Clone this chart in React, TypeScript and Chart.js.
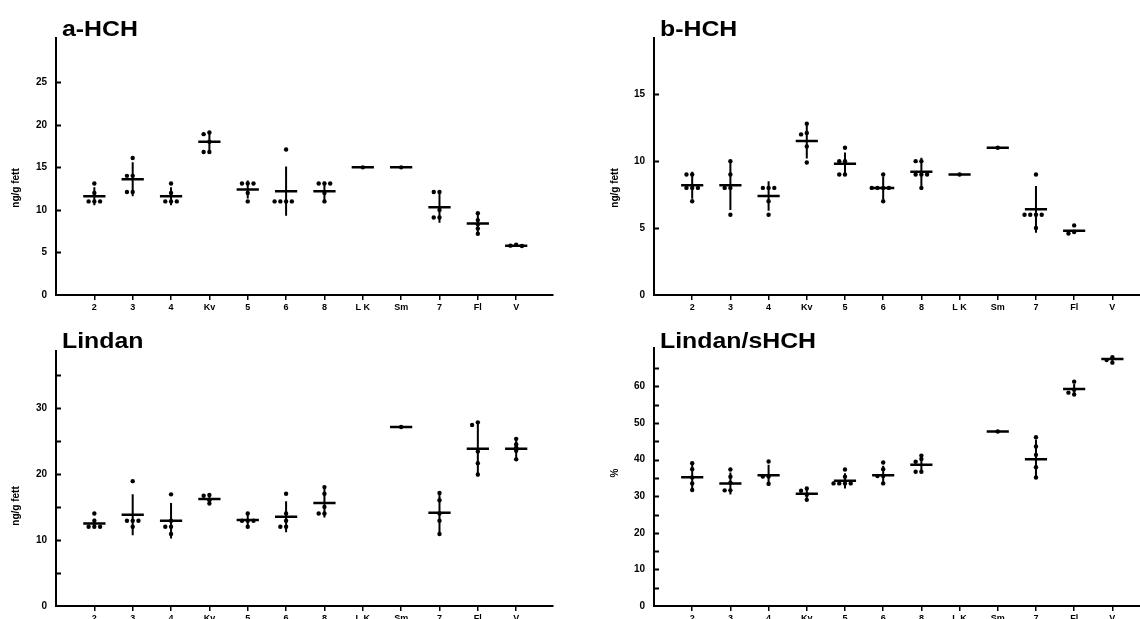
import React, { useEffect, useRef } from "react";
import { Chart, registerables } from "chart.js";
Chart.register(...registerables);

const categories = ["2", "3", "4", "Kv", "5", "6", "8", "L K", "Sm", "7", "Fl", "V"];

// a-HCH (ng/g fett)
const aHchPoints: number[][] = [
  [13.1, 12.0, 11.0, 11.0, 11.0],
  [16.1, 14.0, 14.0, 12.1, 12.1],
  [13.1, 12.0, 11.0, 11.0, 11.0],
  [19.1, 18.9, 18.0, 16.8, 16.8],
  [13.1, 13.1, 13.1, 12.0, 11.0],
  [17.1, 11.0, 11.0, 11.0, 11.0],
  [13.1, 13.1, 13.1, 12.0, 11.0],
  [15.0],
  [15.0],
  [12.1, 12.1, 10.0, 9.1, 9.1],
  [9.6, 8.8, 8.3, 7.8, 7.2],
  [5.9, 5.8, 5.75],
];
const aHchMean: (number | null)[] = [11.6, 13.6, 11.6, 18.0, 12.4, 12.2, 12.2, 15.0, 15.0, 10.3, 8.4, 5.8];
const aHchSd: number[] = [1.05, 2.0, 1.05, 1.25, 1.05, 2.9, 1.1, 0, 0, 1.8, 1.0, 0.12];
const aHchTicks = [0, 5, 10, 15, 20, 25];
const aHchTickLabels = ["0", "5", "10", "15", "20", "25"];

// b-HCH (ng/g fett)
const bHchPoints: number[][] = [
  [9.0, 9.0, 8.0, 8.0, 8.0, 7.0],
  [10.0, 9.0, 8.0, 8.0, 6.0],
  [8.0, 8.0, 8.0, 7.0, 6.0],
  [12.8, 12.1, 12.0, 11.1, 9.9],
  [11.0, 10.0, 10.0, 9.0, 9.0],
  [9.0, 8.0, 8.0, 8.0, 8.0, 7.0],
  [10.0, 10.0, 9.0, 9.0, 9.0, 8.0],
  [9.0],
  [11.0],
  [9.0, 6.0, 6.0, 6.0, 6.0, 5.0],
  [5.2, 4.7, 4.6],
  [],
];
const bHchMean: (number | null)[] = [8.2, 8.2, 7.4, 11.5, 9.8, 8.0, 9.2, 9.0, 11.0, 6.4, 4.8, null];
const bHchSd: number[] = [1.0, 1.85, 1.1, 1.3, 0.85, 0.85, 1.05, 0, 0, 1.75, 0.08, 0];
const bHchTicks = [0, 5, 10, 15];
const bHchTickLabels = ["0", "5", "10", "15"];

// Lindan (ng/g fett)
const lindanPoints: number[][] = [
  [14.0, 12.9, 12.0, 12.0, 12.0],
  [18.9, 12.9, 12.9, 12.9, 12.0],
  [16.9, 12.9, 12.0, 12.0, 10.9],
  [16.8, 16.7, 16.0, 15.5],
  [14.0, 12.9, 12.9, 12.9, 12.0],
  [17.0, 14.0, 12.9, 12.0, 12.0],
  [18.0, 17.0, 15.0, 14.0, 14.0],
  [],
  [27.1],
  [17.1, 16.0, 14.0, 12.9, 10.9],
  [27.8, 27.4, 23.4, 21.6, 19.9],
  [25.3, 24.5, 24.0, 23.5, 22.2],
];
const lindanMean: (number | null)[] = [12.5, 13.8, 12.9, 16.2, 13.0, 13.5, 15.6, null, 27.1, 14.1, 23.8, 23.8];
const lindanSd: number[] = [0.7, 3.1, 2.7, 0.6, 0.85, 2.35, 2.2, 0, 0, 2.9, 4.2, 1.6];
const lindanTicks = [0, 5, 10, 15, 20, 25, 30, 35];
const lindanTickLabels = ["0", "", "10", "", "20", "", "30", ""];

// Lindan/sHCH (%)
const ratioPoints: number[][] = [
  [39.0, 37.4, 35.1, 33.5, 31.7],
  [37.3, 35.3, 33.7, 31.6, 31.6],
  [39.5, 35.4, 35.4, 33.4],
  [32.1, 31.5, 30.4, 29.0],
  [37.3, 35.3, 33.5, 33.5, 33.5, 33.5],
  [39.2, 37.4, 35.5, 35.5, 33.5],
  [41.1, 40.2, 39.4, 36.7, 36.7],
  [],
  [47.7],
  [46.1, 43.6, 41.3, 37.9, 35.1],
  [61.3, 59.1, 58.3, 57.8],
  [68.0, 67.2, 66.5],
];
const ratioMean: (number | null)[] = [35.2, 33.5, 35.7, 30.7, 34.2, 35.7, 38.6, null, 47.7, 40.1, 59.3, 67.5];
const ratioSd: number[] = [3.4, 3.0, 2.9, 1.5, 2.1, 2.6, 1.9, 0, 0, 5.4, 1.4, 0.7];
const ratioTicks = [0, 5, 10, 15, 20, 25, 30, 35, 40, 45, 50, 55, 60, 65];
const ratioTickLabels = ["0", "", "10", "", "20", "", "30", "", "40", "", "50", "", "60", ""];

const FONT = "Arial, 'Liberation Sans', sans-serif";

type PanelDef = {
  key: string;
  title: string;
  yTitle: string;
  points: number[][];
  mean: (number | null)[];
  sd: number[];
  yMax: number;
  yTicks: number[];
  yLabels: string[];
  left: number;
  top: number;
  width: number;
  height: number;
  padTop: number;
  padRight: number;
  xMax: number;
  titleY: number;
  yTitleX: number;
  yTitleY: number;
};

const panels: PanelDef[] = [
  { key: "a", title: "a-HCH", yTitle: "ng/g fett", points: aHchPoints, mean: aHchMean, sd: aHchSd, yMax: 30.2, yTicks: aHchTicks, yLabels: aHchTickLabels, left: 0, top: 0, width: 560, height: 315, padTop: 38, padRight: 7, xMax: 12.96, titleY: 36, yTitleX: 16, yTitleY: 188 },
  { key: "b", title: "b-HCH", yTitle: "ng/g fett", points: bHchPoints, mean: bHchMean, sd: bHchSd, yMax: 19.2, yTicks: bHchTicks, yLabels: bHchTickLabels, left: 598, top: 0, width: 560, height: 315, padTop: 38, padRight: 0, xMax: 13.09, titleY: 36, yTitleX: 17, yTitleY: 188 },
  { key: "l", title: "Lindan", yTitle: "ng/g fett", points: lindanPoints, mean: lindanMean, sd: lindanSd, yMax: 38.6, yTicks: lindanTicks, yLabels: lindanTickLabels, left: 0, top: 310, width: 560, height: 316, padTop: 41, padRight: 7, xMax: 12.96, titleY: 38, yTitleX: 16, yTitleY: 196 },
  { key: "r", title: "Lindan/sHCH", yTitle: "%", points: ratioPoints, mean: ratioMean, sd: ratioSd, yMax: 70.5, yTicks: ratioTicks, yLabels: ratioTickLabels, left: 598, top: 310, width: 560, height: 316, padTop: 38, padRight: 0, xMax: 13.09, titleY: 38, yTitleX: 17, yTitleY: 163 },
];

function swarm(vals: number[], center: number, tol: number, dx: number) {
  const placed: { x: number; y: number }[] = [];
  const order = [0, -1, 1, -2, 2, -3, 3];
  for (const v of vals) {
    for (const k of order) {
      const x = center + k * dx;
      if (!placed.some((p) => Math.abs(p.y - v) < tol && Math.abs(p.x - x) < dx * 0.9)) {
        placed.push({ x, y: v });
        break;
      }
    }
  }
  return placed;
}

const decorPlugin = {
  id: "decor",
  afterDraw(chart: any, _args: any, opts: any) {
    const { ctx, chartArea, scales } = chart;
    const y = scales.y;
    ctx.save();
    ctx.strokeStyle = "#000";
    ctx.lineWidth = 2;
    for (const t of y.ticks) {
      if (t.value === 0) continue;
      const py = Math.round(y.getPixelForValue(t.value)) + 0.5;
      ctx.beginPath();
      ctx.moveTo(chartArea.left, py);
      ctx.lineTo(chartArea.left + 5, py);
      ctx.stroke();
    }
    ctx.fillStyle = "#000";
    ctx.font = `bold 22px ${FONT}`;
    ctx.textAlign = "left";
    ctx.textBaseline = "alphabetic";
    ctx.save();
    ctx.translate(chartArea.left + 6, opts.titleY);
    ctx.scale(1.13, 1);
    ctx.fillText(opts.title, 0, 0);
    ctx.restore();
    ctx.save();
    ctx.font = `bold 10px ${FONT}`;
    ctx.translate(opts.yTitleX, opts.yTitleY);
    ctx.rotate(-Math.PI / 2);
    ctx.textAlign = "center";
    ctx.textBaseline = "middle";
    ctx.fillText(opts.yTitle, 0, 0);
    ctx.restore();
    ctx.restore();
  },
};

function PanelChart({ p }: { p: PanelDef }) {
  const ref = useRef<HTMLCanvasElement | null>(null);
  useEffect(() => {
    if (!ref.current) return;
    const tol = (p.yMax * 3) / 256;
    const dx = 0.15;
    const pts: { x: number; y: number }[] = [];
    p.points.forEach((vals, i) => {
      pts.push(...swarm(vals, i + 1, tol, dx));
    });
    const meanLines: any[] = [];
    const sdLines: any[] = [];
    p.mean.forEach((m, i) => {
      if (m === null) return;
      const c = i + 1;
      meanLines.push({ x: c - 0.29, y: m }, { x: c + 0.29, y: m }, { x: c, y: null });
      const s = p.sd[i];
      if (s > 0) {
        sdLines.push({ x: c, y: m - s }, { x: c, y: m + s }, { x: c, y: null });
      }
    });
    const chart = new Chart(ref.current, {
      type: "scatter",
      data: {
        datasets: [
          { data: pts, pointRadius: 2.2, pointBackgroundColor: "#000", pointBorderColor: "#000", pointBorderWidth: 0, showLine: false },
          { data: meanLines, showLine: true, spanGaps: false, pointRadius: 0, borderColor: "#000", borderWidth: 2.5 },
          { data: sdLines, showLine: true, spanGaps: false, pointRadius: 0, borderColor: "#000", borderWidth: 2 },
        ],
      } as any,
      plugins: [decorPlugin],
      options: {
        animation: false,
        responsive: false,
        devicePixelRatio: 1,
        layout: { padding: { top: p.padTop, right: p.padRight, left: 0, bottom: 0 } },
        plugins: {
          legend: { display: false },
          tooltip: { enabled: false },
          title: { display: false },
          decor: { title: p.title, yTitle: p.yTitle, titleY: p.titleY, yTitleX: p.yTitleX, yTitleY: p.yTitleY },
        } as any,
        scales: {
          x: {
            type: "linear",
            min: 0,
            max: p.xMax,
            afterBuildTicks: (s: any) => {
              s.ticks = categories.map((_, i) => ({ value: i + 1 }));
            },
            afterFit: (s: any) => {
              s.height = 20;
            },
            ticks: {
              autoSkip: false,
              maxRotation: 0,
              padding: 2,
              color: "#000",
              font: { family: FONT, size: 9, weight: "bold" },
              callback: (v: any) => categories[Math.round(Number(v)) - 1] ?? "",
            },
            grid: { drawOnChartArea: false, drawTicks: true, tickLength: 5, color: "#000", lineWidth: 1.5 },
            border: { display: true, color: "#000", width: 2 },
          },
          y: {
            type: "linear",
            min: 0,
            max: p.yMax,
            afterBuildTicks: (s: any) => {
              s.ticks = p.yTicks.map((v) => ({ value: v }));
            },
            afterFit: (s: any) => {
              s.width = 56;
            },
            ticks: {
              padding: 9,
              color: "#000",
              font: { family: FONT, size: 10, weight: "bold" },
              callback: (_v: any, idx: number) => p.yLabels[idx] ?? "",
            },
            grid: { drawOnChartArea: false, drawTicks: false },
            border: { display: true, color: "#000", width: 2 },
          },
        },
      } as any,
    });
    return () => chart.destroy();
  }, [p]);
  return (
    <canvas
      ref={ref}
      width={p.width}
      height={p.height}
      style={{ position: "absolute", left: p.left, top: p.top, width: p.width, height: p.height }}
    />
  );
}

export default function App() {
  return (
    <div style={{ position: "fixed", left: 0, top: 0, width: 1140, height: 619, overflow: "hidden", background: "#fff" }}>
      {panels.map((p) => (
        <PanelChart key={p.key} p={p} />
      ))}
    </div>
  );
}
